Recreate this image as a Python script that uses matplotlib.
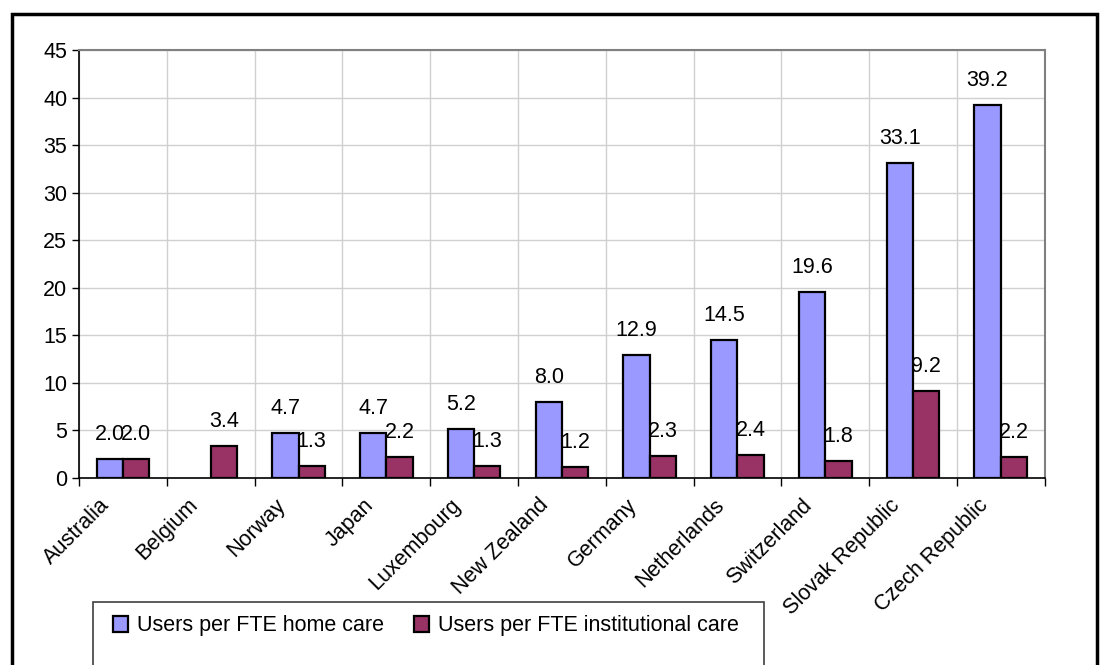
import numpy as np
import matplotlib
matplotlib.use('Agg')
import matplotlib.pyplot as plt
from matplotlib.patches import Rectangle
from matplotlib.transforms import ScaledTranslation

countries = ['Australia', 'Belgium', 'Norway', 'Japan', 'Luxembourg',
             'New Zealand', 'Germany', 'Netherlands', 'Switzerland',
             'Slovak Republic', 'Czech Republic']
home_care = [2.0, np.nan, 4.7, 4.7, 5.2, 8.0, 12.9, 14.5, 19.6, 33.1, 39.2]
institutional_care = [2.0, 3.4, 1.3, 2.2, 1.3, 1.2, 2.3, 2.4, 1.8, 9.2, 2.2]
series_names = ['Users per FTE home care',
                'Users per FTE institutional care']

plt.rcParams['font.family'] = ['Liberation Sans', 'DejaVu Sans']
FS = 15.5

fig = plt.figure(figsize=(11.01, 6.65), dpi=100)
ax = fig.add_axes([0.0718, 0.2812, 0.8770, 0.6436])

x = np.arange(len(countries))
w = 0.3
b1 = ax.bar(x - w / 2, home_care, w, color='#9999FF', edgecolor='black',
            linewidth=1.6, label=series_names[0], zorder=3)
b2 = ax.bar(x + w / 2, institutional_care, w, color='#993366',
            edgecolor='black', linewidth=1.6, label=series_names[1], zorder=3)

for xi, v in zip(x - w / 2, home_care):
    if not np.isnan(v):
        ax.annotate(f'{v:.1f}', (xi, v), xytext=(0, 10),
                    textcoords='offset points', ha='center', va='bottom',
                    fontsize=FS, zorder=4)
for xi, v in zip(x + w / 2, institutional_care):
    ax.annotate(f'{v:.1f}', (xi, v), xytext=(0, 10),
                textcoords='offset points', ha='center', va='bottom',
                fontsize=FS, zorder=4)

ax.set_xlim(-0.5, len(countries) - 0.5)
ax.set_ylim(0, 45)
ax.set_yticks(np.arange(0, 46, 5))
ax.tick_params(axis='y', labelsize=FS, length=5, width=1, direction='out')

# boundaries carry the tick marks and grid, centres carry the labels
ax.set_xticks(np.arange(-0.5, len(countries), 1.0))
ax.set_xticklabels([])
ax.set_xticks(x, minor=True)
ax.set_xticklabels(countries, minor=True, rotation=45, ha='right',
                   va='top', rotation_mode='anchor', fontsize=FS)
ax.tick_params(axis='x', which='major', length=6, width=1, direction='out')
ax.tick_params(axis='x', which='minor', length=0, pad=12)
for lab in ax.get_xticklabels(minor=True):
    lab.set_transform(lab.get_transform() +
                      ScaledTranslation(-17 / 72, 0, fig.dpi_scale_trans))

ax.grid(True, which='major', color='#d0d0d0', linewidth=1, zorder=0)
ax.set_axisbelow(True)
for side in ['top', 'right']:
    ax.spines[side].set_color('#808080')
    ax.spines[side].set_linewidth(1.5)
for side in ['left', 'bottom']:
    ax.spines[side].set_color('black')
    ax.spines[side].set_linewidth(1.2)

# legend box running off the bottom edge
fig.patches.append(Rectangle((93 / 1101, -0.1), (764 - 93) / 1101,
                             0.1 + (665 - 602) / 665,
                             transform=fig.transFigure, fill=False,
                             edgecolor='#404040', linewidth=1.2))
fig.legend(handles=[b1, b2], labels=series_names, ncol=2, frameon=False,
           loc='center left', bbox_to_anchor=(113 / 1101, 1 - 626 / 665),
           fontsize=FS, handlelength=0.7, handleheight=0.7,
           handletextpad=0.4, columnspacing=1.4, borderaxespad=0,
           borderpad=0)

# outer chart frame
fig.patches.append(Rectangle((12 / 1101, -0.1), (1097 - 12) / 1101,
                             0.1 + (665 - 14) / 665,
                             transform=fig.transFigure, fill=False,
                             edgecolor='black', linewidth=2.5))

fig.savefig('out.png', dpi=100)
